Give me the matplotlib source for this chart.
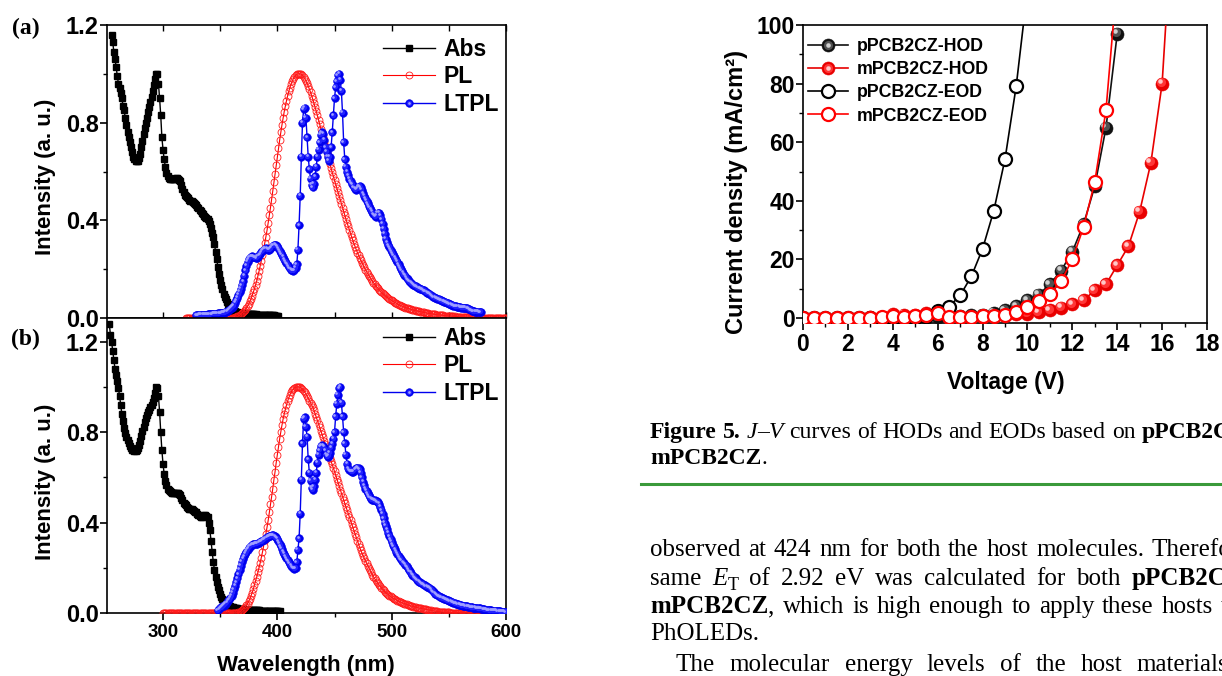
import re
import numpy as np
import matplotlib.pyplot as plt
from matplotlib.lines import Line2D
from matplotlib.ticker import FormatStrFormatter
from matplotlib.transforms import ScaledTranslation

W, H = 1222, 676

# ---- panel (a) spectra, 1 nm steps from the start wavelength ----
abs_a_start = 255
abs_a = [1.16, 1.13, 1.09, 1.06, 1.03, 0.99, 0.96, 0.94, 0.92, 0.90,
         0.87, 0.85, 0.82, 0.79, 0.76, 0.74, 0.72, 0.70, 0.68, 0.66,
         0.65, 0.645, 0.645, 0.645, 0.655, 0.67, 0.70, 0.725, 0.755, 0.78,
         0.80, 0.82, 0.845, 0.865, 0.885, 0.905, 0.93, 0.955, 0.98, 1.0,
         1.0, 0.96, 0.90, 0.83, 0.74, 0.69, 0.65, 0.62, 0.595, 0.58,
         0.572, 0.57, 0.568, 0.568, 0.568, 0.57, 0.572, 0.572, 0.57, 0.566,
         0.56, 0.545, 0.53, 0.515, 0.505, 0.50, 0.495, 0.49, 0.485, 0.48,
         0.478, 0.474, 0.47, 0.466, 0.462, 0.456, 0.45, 0.444, 0.438, 0.43,
         0.424, 0.418, 0.414, 0.41, 0.404, 0.396, 0.385, 0.37, 0.35, 0.33,
         0.305, 0.27, 0.24, 0.21, 0.18, 0.155, 0.135, 0.12, 0.10, 0.088,
         0.077, 0.067, 0.058, 0.05, 0.044, 0.038, 0.034, 0.03, 0.028, 0.026,
         0.024, 0.022, 0.021, 0.02, 0.019, 0.018, 0.018, 0.017, 0.017, 0.017,
         0.016, 0.016, 0.016, 0.015, 0.015, 0.015, 0.015, 0.014, 0.014, 0.014,
         0.014, 0.013, 0.013, 0.013, 0.013, 0.012, 0.012, 0.012, 0.012, 0.011,
         0.011, 0.011, 0.011, 0.01, 0.01, 0.01, 0.01]

pl_a_start = 320
pl_a = [0.0, 0.0, 0.0, 0.0, 0.0, 0.0, 0.0, 0.0, 0.0, 0.0,
        0.0, 0.0, 0.0, 0.0, 0.0, 0.0, 0.0, 0.0, 0.0, 0.0,
        0.0, 0.0, 0.0, 0.0, 0.0, 0.0, 0.0, 0.0, 0.0, 0.0,
        0.0, 0.0, 0.0, 0.0, 0.0, 0.0, 0.0, 0.0, 0.0, 0.0,
        0.0, 0.001, 0.002, 0.003, 0.005, 0.007, 0.009, 0.012, 0.015, 0.019,
        0.023, 0.028, 0.034, 0.041, 0.049, 0.058, 0.068, 0.079, 0.092, 0.106,
        0.12, 0.136, 0.153, 0.172, 0.192, 0.213, 0.235, 0.258, 0.282, 0.307,
        0.333, 0.36, 0.39, 0.42, 0.452, 0.485, 0.52, 0.555, 0.59, 0.625,
        0.66, 0.695, 0.728, 0.76, 0.79, 0.818, 0.845, 0.868, 0.89, 0.91,
        0.928, 0.944, 0.958, 0.97, 0.98, 0.988, 0.994, 0.998, 1.0, 1.0,
        1.0, 0.998, 0.994, 0.988, 0.98, 0.971, 0.961, 0.95, 0.938, 0.925,
        0.911, 0.896, 0.88, 0.864, 0.847, 0.83, 0.812, 0.794, 0.776, 0.758,
        0.74, 0.722, 0.704, 0.686, 0.668, 0.65, 0.632, 0.614, 0.596, 0.58,
        0.564, 0.548, 0.532, 0.516, 0.5, 0.484, 0.468, 0.452, 0.436, 0.42,
        0.405, 0.39, 0.375, 0.36, 0.346, 0.332, 0.318, 0.305, 0.292, 0.28,
        0.268, 0.257, 0.246, 0.236, 0.226, 0.216, 0.207, 0.198, 0.19, 0.182,
        0.174, 0.166, 0.159, 0.152, 0.145, 0.139, 0.133, 0.127, 0.121, 0.116,
        0.111, 0.106, 0.101, 0.097, 0.093, 0.089, 0.085, 0.081, 0.078, 0.075,
        0.072, 0.069, 0.066, 0.063, 0.06, 0.058, 0.055, 0.053, 0.051, 0.049,
        0.047, 0.045, 0.043, 0.041, 0.04, 0.038, 0.037, 0.035, 0.034, 0.032,
        0.031, 0.03, 0.029, 0.028, 0.027, 0.026, 0.025, 0.024, 0.023, 0.022,
        0.021, 0.02, 0.019, 0.018, 0.018, 0.017, 0.016, 0.015, 0.015, 0.014,
        0.013, 0.013, 0.012, 0.012, 0.011, 0.011, 0.01, 0.01, 0.009, 0.009,
        0.008, 0.008, 0.008, 0.007, 0.007, 0.007, 0.006, 0.006, 0.006, 0.005,
        0.005, 0.005, 0.004, 0.004, 0.004, 0.004, 0.004, 0.003, 0.003, 0.003,
        0.003, 0.003, 0.003, 0.002, 0.002, 0.002, 0.002, 0.002, 0.002, 0.002,
        0.002, 0.001, 0.001, 0.001, 0.001, 0.001, 0.001, 0.001, 0.001, 0.001,
        0.001, 0.001, 0.001, 0.001, 0.001, 0.001, 0.001, 0.001, 0.001, 0.001,
        0.001]

ltpl_a_start = 329
ltpl_a = [0.012, 0.012, 0.012, 0.013, 0.013, 0.013, 0.013, 0.014, 0.014, 0.014,
          0.015, 0.015, 0.015, 0.016, 0.016, 0.017, 0.017, 0.018, 0.018, 0.019,
          0.019, 0.02, 0.02, 0.021, 0.022, 0.023, 0.025, 0.027, 0.03, 0.033,
          0.037, 0.041, 0.045, 0.052, 0.062, 0.072, 0.083, 0.095, 0.107, 0.12,
          0.135, 0.15, 0.172, 0.195, 0.215, 0.23, 0.24, 0.246, 0.25, 0.252,
          0.25, 0.248, 0.246, 0.245, 0.25, 0.256, 0.262, 0.27, 0.276, 0.28,
          0.283, 0.286, 0.284, 0.28, 0.279, 0.283, 0.29, 0.295, 0.298, 0.299,
          0.297, 0.293, 0.285, 0.276, 0.268, 0.26, 0.25, 0.24, 0.232, 0.225,
          0.218, 0.21, 0.203, 0.198, 0.195, 0.194, 0.196, 0.205, 0.22, 0.28,
          0.38, 0.5, 0.66, 0.80, 0.855, 0.86, 0.82, 0.74, 0.66, 0.61,
          0.57, 0.545, 0.535, 0.55, 0.58, 0.62, 0.66, 0.69, 0.72, 0.75,
          0.76, 0.755, 0.73, 0.70, 0.68, 0.66, 0.645, 0.66, 0.70, 0.76,
          0.83, 0.90, 0.945, 0.97, 0.995, 1.0, 0.975, 0.93, 0.84, 0.72,
          0.65, 0.62, 0.60, 0.585, 0.57, 0.56, 0.55, 0.545, 0.535, 0.53,
          0.525, 0.53, 0.538, 0.54, 0.535, 0.525, 0.51, 0.50, 0.49, 0.48,
          0.47, 0.46, 0.452, 0.444, 0.435, 0.425, 0.418, 0.415, 0.42, 0.43,
          0.432, 0.42, 0.405, 0.385, 0.365, 0.345, 0.325, 0.31, 0.298, 0.29,
          0.28, 0.272, 0.264, 0.255, 0.247, 0.239, 0.23, 0.22, 0.21, 0.202,
          0.194, 0.186, 0.178, 0.172, 0.165, 0.158, 0.152, 0.148, 0.144, 0.14,
          0.136, 0.133, 0.13, 0.127, 0.124, 0.122, 0.12, 0.118, 0.116, 0.113,
          0.11, 0.107, 0.104, 0.102, 0.1, 0.096, 0.092, 0.088, 0.085, 0.083,
          0.081, 0.079, 0.077, 0.075, 0.073, 0.071, 0.069, 0.067, 0.065, 0.063,
          0.061, 0.059, 0.057, 0.055, 0.053, 0.051, 0.049, 0.048, 0.047, 0.046,
          0.045, 0.044, 0.043, 0.042, 0.042, 0.041, 0.041, 0.04, 0.038, 0.035,
          0.032, 0.03, 0.028, 0.027, 0.026, 0.026, 0.025, 0.025, 0.024, 0.024]

# ---- panel (b) spectra ----
abs_b_start = 253
abs_b = [1.28, 1.23, 1.2, 1.16, 1.12, 1.08, 1.055, 1.025, 0.995, 0.96,
         0.92, 0.88, 0.85, 0.82, 0.795, 0.78, 0.765, 0.75, 0.738, 0.728,
         0.722, 0.72, 0.718, 0.718, 0.72, 0.728, 0.742, 0.76, 0.785, 0.805,
         0.825, 0.845, 0.862, 0.875, 0.888, 0.90, 0.91, 0.918, 0.935, 0.95,
         0.975, 1.0, 0.995, 0.96, 0.89, 0.80, 0.72, 0.66, 0.615, 0.585,
         0.565, 0.55, 0.545, 0.54, 0.535, 0.532, 0.53, 0.53, 0.53, 0.532,
         0.53, 0.526, 0.52, 0.51, 0.498, 0.488, 0.482, 0.476, 0.47, 0.466,
         0.462, 0.46, 0.458, 0.455, 0.452, 0.448, 0.445, 0.44, 0.435, 0.43,
         0.426, 0.425, 0.428, 0.432, 0.432, 0.43, 0.425, 0.40, 0.365, 0.32,
         0.27, 0.225, 0.19, 0.16, 0.135, 0.115, 0.10, 0.085, 0.072, 0.062,
         0.054, 0.047, 0.042, 0.038, 0.035, 0.032, 0.03, 0.028, 0.026, 0.024,
         0.022, 0.021, 0.02, 0.019, 0.018, 0.017, 0.016, 0.016, 0.015, 0.015,
         0.015, 0.014, 0.014, 0.014, 0.013, 0.013, 0.013, 0.013, 0.012, 0.012,
         0.012, 0.012, 0.011, 0.011, 0.011, 0.011, 0.011, 0.01, 0.01, 0.01,
         0.01, 0.01, 0.01, 0.009, 0.009, 0.009, 0.009, 0.009, 0.009, 0.009]

pl_b_start = 300
pl_b = [0.0, 0.0, 0.0, 0.0, 0.0, 0.0, 0.0, 0.0, 0.0, 0.0,
        0.0, 0.0, 0.0, 0.0, 0.0, 0.0, 0.0, 0.0, 0.0, 0.0,
        0.0, 0.0, 0.0, 0.0, 0.0, 0.0, 0.0, 0.0, 0.0, 0.0,
        0.0, 0.0, 0.0, 0.0, 0.0, 0.0, 0.0, 0.0, 0.0, 0.0,
        0.0, 0.0, 0.0, 0.0, 0.0, 0.0, 0.0, 0.0, 0.0, 0.0,
        0.0, 0.0, 0.0, 0.0, 0.0, 0.0, 0.0, 0.0, 0.0, 0.0,
        0.0, 0.0, 0.0, 0.0, 0.0,
        0.002, 0.004, 0.006, 0.009, 0.012, 0.016, 0.021, 0.027, 0.034, 0.042,
        0.052, 0.063, 0.076, 0.09, 0.105, 0.125, 0.142, 0.16, 0.18, 0.2,
        0.222, 0.245, 0.27, 0.295, 0.322, 0.35, 0.38, 0.41, 0.445, 0.48,
        0.515, 0.55, 0.59, 0.625, 0.665, 0.70, 0.735, 0.77, 0.80, 0.83,
        0.857, 0.88, 0.90, 0.92, 0.937, 0.952, 0.965, 0.976, 0.985, 0.991,
        0.996, 0.999, 1.0, 1.0, 1.0, 0.998, 0.995, 0.99, 0.984, 0.977,
        0.969, 0.96, 0.95, 0.94, 0.93, 0.92, 0.91, 0.897, 0.882, 0.867,
        0.852, 0.837, 0.822, 0.807, 0.792, 0.777, 0.762, 0.747, 0.732, 0.717,
        0.702, 0.687, 0.672, 0.657, 0.642, 0.626, 0.61, 0.594, 0.578, 0.562,
        0.546, 0.53, 0.515, 0.5, 0.485, 0.47, 0.455, 0.44, 0.425, 0.41,
        0.395, 0.38, 0.365, 0.35, 0.335, 0.32, 0.305, 0.29, 0.277, 0.265,
        0.253, 0.242, 0.231, 0.22, 0.21, 0.2, 0.19, 0.18, 0.17, 0.161,
        0.153, 0.145, 0.138, 0.131, 0.124, 0.118, 0.112, 0.106, 0.1, 0.095,
        0.09, 0.085, 0.081, 0.077, 0.073, 0.07, 0.067, 0.064, 0.061, 0.058,
        0.055, 0.053, 0.05, 0.048, 0.046, 0.044, 0.042, 0.04, 0.038, 0.036,
        0.034, 0.033, 0.031, 0.03, 0.028, 0.027, 0.026, 0.024, 0.023, 0.022,
        0.021, 0.02, 0.019, 0.018, 0.017, 0.016, 0.015, 0.014, 0.013, 0.012,
        0.011, 0.01, 0.009, 0.008, 0.007, 0.007, 0.006, 0.006, 0.005, 0.005,
        0.004, 0.004, 0.004, 0.003, 0.003, 0.003, 0.002, 0.002, 0.002, 0.002,
        0.002, 0.002, 0.002, 0.002, 0.002, 0.002, 0.001, 0.001, 0.001, 0.001,
        0.001, 0.001, 0.001, 0.001, 0.001, 0.001, 0.001, 0.001, 0.001, 0.001,
        0.001, 0.001, 0.001, 0.001, 0.001, 0.001, 0.0, 0.0, 0.0, 0.0,
        0.0, 0.0, 0.0, 0.0, 0.0, 0.0, 0.0, 0.0, 0.0, 0.0,
        0.0]

ltpl_b_start = 348
ltpl_b = [0.012, 0.016, 0.021, 0.025, 0.029, 0.033, 0.037, 0.041, 0.047, 0.053,
          0.06, 0.067, 0.077, 0.09, 0.105, 0.12, 0.137, 0.153, 0.172, 0.192,
          0.21, 0.226, 0.24, 0.252, 0.263, 0.272, 0.28, 0.287, 0.293, 0.298,
          0.302, 0.304, 0.305, 0.306, 0.307, 0.309, 0.311, 0.314, 0.317, 0.32,
          0.323, 0.327, 0.331, 0.334, 0.337, 0.339, 0.341, 0.343, 0.344, 0.342,
          0.339, 0.335, 0.328, 0.318, 0.307, 0.296, 0.284, 0.272, 0.262, 0.252,
          0.243, 0.234, 0.226, 0.218, 0.21, 0.203, 0.198, 0.196, 0.198, 0.225,
          0.28, 0.33, 0.44, 0.59, 0.75, 0.86, 0.865, 0.825, 0.78, 0.68,
          0.62, 0.585, 0.555, 0.545, 0.56, 0.59, 0.62, 0.665, 0.70, 0.72,
          0.738, 0.742, 0.74, 0.735, 0.72, 0.70, 0.69, 0.695, 0.71, 0.73,
          0.748, 0.77, 0.80, 0.87, 0.925, 0.965, 0.995, 1.0, 0.93, 0.87,
          0.80, 0.75, 0.70, 0.66, 0.64, 0.632, 0.628, 0.625, 0.624, 0.628,
          0.635, 0.64, 0.642, 0.64, 0.635, 0.62, 0.60, 0.58, 0.565, 0.55,
          0.54, 0.53, 0.52, 0.512, 0.506, 0.502, 0.5, 0.498, 0.496, 0.494,
          0.49, 0.484, 0.47, 0.455, 0.44, 0.42, 0.40, 0.385, 0.37, 0.355,
          0.34, 0.327, 0.315, 0.303, 0.292, 0.282, 0.272, 0.262, 0.253, 0.245,
          0.238, 0.231, 0.225, 0.219, 0.213, 0.207, 0.2, 0.192, 0.184, 0.177,
          0.17, 0.164, 0.158, 0.153, 0.148, 0.143, 0.139, 0.135, 0.131, 0.128,
          0.125, 0.122, 0.119, 0.116, 0.114, 0.112, 0.108, 0.103, 0.097, 0.091,
          0.086, 0.082, 0.078, 0.075, 0.072, 0.069, 0.067, 0.065, 0.062, 0.06,
          0.058, 0.056, 0.054, 0.052, 0.05, 0.048, 0.046, 0.044, 0.042, 0.041,
          0.039, 0.037, 0.036, 0.034, 0.033, 0.032, 0.031, 0.03, 0.029, 0.028,
          0.027, 0.026, 0.025, 0.024, 0.023, 0.022, 0.021, 0.021, 0.02, 0.02,
          0.019, 0.018, 0.017, 0.016, 0.015, 0.014, 0.013, 0.013, 0.012, 0.012,
          0.011, 0.011, 0.01, 0.009, 0.009, 0.008, 0.008, 0.007, 0.006, 0.006,
          0.005, 0.005, 0.004]

spec_labels = ['Abs', 'PL', 'LTPL']

# ---- J-V curves, 0.5 V steps from 0 V ----
jv_step = 0.5
j_p_hod = [0, 0, 0, 0, 0, 0, 0, 0, 0, 0,
           0, 0.1, 0.3, 0.5, 0.7, 0.9, 1.2, 1.7, 2.6, 4.0,
           6.0, 8.0, 11.5, 16.2, 22.6, 32, 45, 65, 97]
j_m_hod = [0, 0, 0, 0, 0, 0, 0.2, 0.5, 1.3, 1.0,
           1.2, 1.6, 1.6, 0.3, 0.3, 0.4, 0.5, 0.6, 0.9, 1.25,
           1.5, 2.0, 2.6, 3.5, 4.7, 6.0, 9.5, 11.5, 18, 24.5,
           36.3, 53, 80, 142]
j_p_eod = [0, 0, 0, 0, 0, 0, 0, 0, 0, 0,
           0.1, 0.6, 2.5, 3.8, 7.7, 14.2, 23.6, 36.6, 54.2, 79.2,
           112]
j_m_eod = [0, 0, 0, 0, 0, 0, 0.1, 0.4, 0.6, 0.5,
           0.6, 1.2, 1.6, 0.2, 0.3, 0.4, 0.6, 0.7, 1.1, 2.0,
           3.8, 5.7, 8.3, 12.6, 20, 31, 46.5, 71, 116]
jv_labels = ['pPCB2CZ-HOD', 'mPCB2CZ-HOD', 'pPCB2CZ-EOD', 'mPCB2CZ-EOD']

# ---- page text (** bold, * italic, _{} subscript) ----
caption = ['**Figure** **5.** *J*–*V* curves of HODs and EODs based on **pPCB2CZ** and',
           '**mPCB2CZ**.']
body = ['observed at 424 nm for both the host molecules. Therefore,',
        'same *E*_{T} of 2.92 eV was calculated for both **pPCB2CZ** and',
        '**mPCB2CZ**, which is high enough to apply these hosts to',
        'PhOLEDs.',
        'The molecular energy levels of the host materials']

plt.rcParams['font.family'] = 'Liberation Sans'
plt.rcParams['font.weight'] = 'bold'
plt.rcParams['axes.linewidth'] = 1.2

fig = plt.figure(figsize=(W / 100, H / 100), dpi=100)


def px_axes(left, top, right, bottom):
    return fig.add_axes([left / W, 1 - bottom / H, (right - left) / W, (bottom - top) / H])


def sphere(ax, x, y, base, mid, hi, ms, lw, z):
    ln, = ax.plot(x, y, color=base, lw=lw, marker='o', ms=ms, mfc=base, mec=base,
                  mew=0.4, zorder=z)
    d1, d2 = ms * 0.1, ms * 0.2
    t1 = ax.transData + ScaledTranslation(-d1 / 72, d1 / 72, fig.dpi_scale_trans)
    t2 = ax.transData + ScaledTranslation(-d2 / 72, d2 / 72, fig.dpi_scale_trans)
    m1, = ax.plot(x, y, ls='none', marker='o', ms=ms * 0.7, mfc=mid, mec='none',
                  transform=t1, zorder=z)
    m2, = ax.plot(x, y, ls='none', marker='o', ms=ms * 0.35, mfc=hi, mec='none',
                  transform=t2, zorder=z)
    return (ln, m1, m2)


def spectra(ax, a0, av, p0, pv, l0, lv, ytop, leg_top):
    h1, = ax.plot(a0 + np.arange(len(av)), av, color='k', lw=1, marker='s', ms=3.8,
                  mfc='k', mec='k', zorder=3)
    h2, = ax.plot(p0 + np.arange(len(pv)), pv, color='#ff0000', lw=0.8, marker='o',
                  ms=5.0, mfc='none', mec='#ff1a1a', mew=0.6, zorder=4)
    h3 = sphere(ax, l0 + np.arange(len(lv)), lv, '#0000ee', '#2222ff', '#a0a0ff',
                5.5, 1.0, 5)
    ax.set_xlim(251, 600)
    ax.set_ylim(0, ytop)
    ax.set_xticks([300, 400, 500, 600])
    ax.set_xticks([350, 450, 550], minor=True)
    ax.set_yticks([0, 0.4, 0.8, 1.2])
    ax.set_yticks([0.2, 0.6, 1.0], minor=True)
    ax.yaxis.set_major_formatter(FormatStrFormatter('%.1f'))
    ax.tick_params(axis='y', which='major', direction='out', length=5, width=1.2,
                   labelsize=17, pad=1)
    ax.tick_params(axis='y', which='minor', direction='out', length=3, width=1.0)
    ax.legend([h1, h2, h3], spec_labels, loc='upper right', frameon=False,
              bbox_to_anchor=(0.982, leg_top), borderpad=0, borderaxespad=0,
              fontsize=16.5, handlelength=2.3, handletextpad=0.35, labelspacing=0.2,
              numpoints=1)


ax_a = px_axes(107, 25, 506, 318)
ax_b = px_axes(107, 318, 506, 613)
spectra(ax_a, abs_a_start, abs_a, pl_a_start, pl_a, ltpl_a_start, ltpl_a, 1.2, 0.957)
spectra(ax_b, abs_b_start, abs_b, pl_b_start, pl_b, ltpl_b_start, ltpl_b, 1.305, 0.97)
ax_a.tick_params(axis='x', which='both', direction='in', top=True, labelbottom=False,
                 length=4, width=1.0)
ax_b.tick_params(axis='x', which='major', direction='out', length=5, width=1.2,
                 labelsize=13.5, pad=3)
ax_b.tick_params(axis='x', which='minor', direction='out', length=3, width=1.0)

fig.text(46 / W, 1 - 177 / H, 'Intensity (a. u.)', rotation=90, ha='center',
         va='center', fontsize=16, fontweight='bold')
fig.text(46 / W, 1 - 482 / H, 'Intensity (a. u.)', rotation=90, ha='center',
         va='center', fontsize=16, fontweight='bold')
fig.text(306 / W, 1 - 665 / H, 'Wavelength (nm)', ha='center', va='center',
         fontsize=16, fontweight='bold')
fig.text(12 / W, 1 - 28 / H, '(a)', ha='left', va='center', fontsize=17,
         family='Liberation Serif', fontweight='bold')
fig.text(11 / W, 1 - 339 / H, '(b)', ha='left', va='center', fontsize=17,
         family='Liberation Serif', fontweight='bold')

# ---- J-V panel ----
ax_j = px_axes(803, 25, 1207, 323)
hs = [sphere(ax_j, jv_step * np.arange(len(j_p_hod)), j_p_hod, '#111111', '#505050',
             '#d0d0d0', 9.4, 1.2, 3),
      sphere(ax_j, jv_step * np.arange(len(j_m_hod)), j_m_hod, '#e80000', '#ff3535',
             '#ffc8c8', 9.4, 1.2, 4)]
l3, = ax_j.plot(jv_step * np.arange(len(j_p_eod)), j_p_eod, color='k', lw=1.2,
                marker='o', ms=9.4, mfc='white', mec='k', mew=1.6, zorder=5)
l4, = ax_j.plot(jv_step * np.arange(len(j_m_eod)), j_m_eod, color='#ff0000', lw=1.2,
                marker='o', ms=9.4, mfc='white', mec='#ff0000', mew=1.6, zorder=6)
hs += [l3, l4]
ax_j.set_xlim(0, 18)
ax_j.set_ylim(-1.7, 100)
ax_j.set_xticks(np.arange(0, 19, 2))
ax_j.set_xticks(np.arange(1, 18, 2), minor=True)
ax_j.set_yticks(np.arange(0, 101, 20))
ax_j.set_yticks(np.arange(10, 100, 20), minor=True)
ax_j.tick_params(which='major', direction='out', length=5, width=1.2, labelsize=16.5)
ax_j.tick_params(axis='y', which='major', pad=1)
ax_j.tick_params(axis='x', which='major', pad=2.5)
ax_j.tick_params(which='minor', direction='out', length=3, width=1.0)
ax_j.legend(hs, jv_labels, loc='upper left', frameon=False, bbox_to_anchor=(0.012, 0.955),
            borderpad=0, borderaxespad=0, fontsize=12.8, handlelength=2.25,
            handletextpad=0.5, labelspacing=0.34, numpoints=1)
fig.text(737 / W, 1 - 192 / H, 'Current density (mA/cm²)', rotation=90, ha='center',
         va='center', fontsize=17, fontweight='bold')
fig.text(1006 / W, 1 - 383 / H, 'Voltage (V)', ha='center', va='center', fontsize=16.5,
         fontweight='bold')

# ---- caption, rule and body text ----
TOKEN = re.compile(r'\*\*(.+?)\*\*|\*(.+?)\*|_\{(.+?)\}|([^*_]+)')
rend = fig.canvas.get_renderer()


def text_line(x, base, line, size, space=None):
    px = size * 100 / 72
    sp = px * 0.25 if space is None else space
    for word in line.split(' '):
        for m in TOKEN.finditer(word):
            b, i, s, r = m.groups()
            txt = b or i or s or r
            fs = size * 0.72 if s else size
            y = base + (px * 0.2 if s else 0)
            t = fig.text(x / W, 1 - y / H, txt, fontsize=fs, family='Liberation Serif',
                         fontweight='bold' if b else 'normal',
                         fontstyle='italic' if i else 'normal',
                         va='baseline', ha='left')
            x += t.get_window_extent(renderer=rend).width
        x += sp


text_line(650, 438, caption[0], 17, space=5.9)
text_line(650, 464, caption[1], 17)
fig.add_artist(Line2D([641 / W, 1.0], [1 - 484 / H, 1 - 484 / H], color='#3a9a3a', lw=2.2))
text_line(650, 556, body[0], 18, space=7.75)
text_line(650, 585, body[1], 18, space=10.7)
text_line(650, 613, body[2], 18, space=8.0)
text_line(650, 640, body[3], 18)
text_line(676, 671, body[4], 18, space=14.5)

fig.savefig('out.png', dpi=100, facecolor='white')
